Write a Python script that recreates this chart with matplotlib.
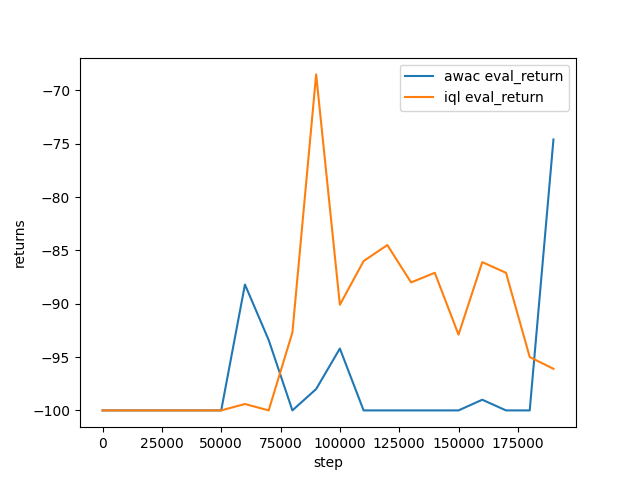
import numpy as np
from matplotlib import pyplot as plt

steps = np.arange(0, 200000, 10000)
awac = [-100, -100, -100, -100, -100, -100, -88.2, -93.4, -100, -98.0,
        -94.2, -100, -100, -100, -100, -100, -99.0, -100, -100, -74.6]
iql = [-100, -100, -100, -100, -100, -100, -99.4, -100, -92.7, -68.5,
       -90.1, -86.0, -84.5, -88.0, -87.1, -92.9, -86.1, -87.1, -95.0, -96.1]

fig, ax = plt.subplots(figsize=(6.4, 4.8), dpi=100)
ax.plot(steps, awac, label='awac eval_return')
ax.plot(steps, iql, label='iql eval_return')
ax.set_xlabel('step')
ax.set_ylabel('returns')
ax.legend()

plt.savefig('out.png')
